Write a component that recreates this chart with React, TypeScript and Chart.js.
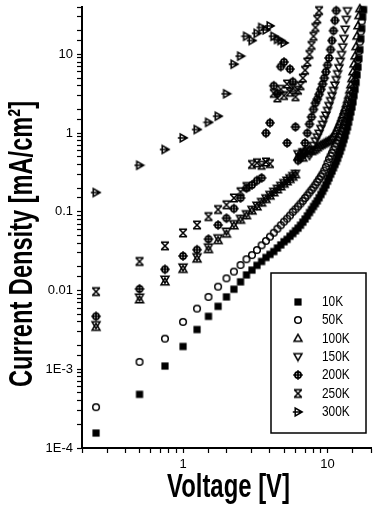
import React, { useEffect, useRef } from 'react';
import { Chart, registerables } from 'chart.js';

Chart.register(...registerables);

// ---- data -------------------------------------------------------------
const voltages = [
  0.25, 0.5, 0.75, 1, 1.25, 1.5, 1.75, 2, 2.25, 2.5, 2.75, 3, 3.25, 3.5, 3.75, 4,
  4.25, 4.5, 4.75, 5, 5.25, 5.5, 5.75, 6, 6.25, 6.5, 6.75, 7, 7.25, 7.5, 7.75, 8,
  8.25, 8.5, 8.75, 9, 9.25, 9.5, 9.75, 10, 10.25, 10.5, 10.75, 11, 11.25, 11.5, 11.75, 12,
  12.25, 12.5, 12.75, 13, 13.25, 13.5, 13.75, 14, 14.25, 14.5, 14.75, 15, 15.25, 15.5, 15.75, 16,
  16.25, 16.5, 16.75, 17, 17.25, 17.5, 17.75, 18,
];

const j10K = [
  1.55e-4, 4.8e-4, 1.1e-3, 1.95e-3, 3.2e-3, 4.7e-3, 6.3e-3, 8.3e-3, 0.0104, 0.0129, 0.0158,
  0.0182, 0.0209, 0.0234, 0.0263, 0.0288, 0.0313, 0.0347, 0.038, 0.0417,
  0.0447, 0.049, 0.053, 0.0575, 0.062, 0.0676, 0.074, 0.081, 0.089, 0.098, 0.107, 0.117,
  0.127, 0.138, 0.151, 0.166, 0.182, 0.2, 0.22, 0.245, 0.27, 0.3, 0.33, 0.363, 0.4, 0.437, 0.48, 0.537,
  0.59, 0.66, 0.74, 0.83, 0.93, 1.07, 1.2, 1.38, 1.6, 1.86, 2.15, 2.5, 3.0, 3.6, 4.4, 5.5, 6.9, 8.9,
  11.5, 15.8, 21.4, 30, 37,
];

const j50K = [
  3.3e-4, 1.24e-3, 2.45e-3, 4.0e-3, 5.9e-3, 8.3e-3, 0.0112, 0.0143, 0.0174, 0.0211, 0.025,
  0.0282, 0.0327, 0.0376, 0.0427, 0.0484, 0.0543, 0.061, 0.0676, 0.075,
  0.082, 0.09, 0.1, 0.108, 0.117, 0.127, 0.138, 0.15, 0.162, 0.176, 0.19, 0.204,
  0.221, 0.24, 0.26, 0.282, 0.305, 0.335, 0.372, 0.417, 0.468, 0.513, 0.562, 0.617, 0.676, 0.741, 0.813, 0.891,
  0.955, 1.05, 1.15, 1.26, 1.38, 1.51, 1.66, 1.86, 2.09, 2.4, 2.75, 3.24, 3.8, 4.57, 5.5, 6.76, 8.5,
  11, 14.5, 19.5, 26.3, 36.3,
];

const j100K = [
  3.4e-3, 7.6e-3, 0.0128, 0.0185, 0.025, 0.033, 0.043, 0.052,
  0.066, 0.078, 0.089, 0.102, 0.115, 0.129, 0.143, 0.158, 0.174, 0.19, 0.207, 0.224, 0.24, 0.257, 0.275, 0.295,
  0.5, 0.56, 0.48, 0.6, 0.55, 0.62, 0.58, 0.6, 0.62, 0.65, 0.68, 0.7, 0.72, 0.74, 0.76, 0.78,
  0.8, 0.83, 0.86, 0.9, 0.98, 1.07, 1.17, 1.28, 1.4, 1.55, 1.7, 1.9, 2.1, 2.35, 2.65, 3.0,
  3.5, 4.1, 4.9, 6.0, 7.5, 9.5, 12.5, 17, 23, 31, 38,
];

const j150K = [
  3.7e-3, 8.3e-3, 0.014, 0.02, 0.027, 0.036, 0.047, 0.057,
  0.071, 0.083, 0.095, 0.108, 0.122, 0.136, 0.151, 0.167, 0.183, 0.2, 0.218, 0.236, 0.254, 0.272, 0.29, 0.31,
  0.55, 0.5, 0.58, 0.55, 0.6, 0.52, 0.62, 0.7, 0.8, 0.9, 1.0, 1.15, 1.3, 1.5, 1.7, 1.95,
  2.25, 2.6, 3.0, 3.5, 4.1, 4.8, 5.7, 6.8, 8.2, 10, 12.5, 16, 21, 28, 36,
];

const j200K = [
  4.7e-3, 0.0105, 0.0186, 0.0275, 0.033, 0.045, 0.068, 0.083,
  0.11, 0.15, 0.2, 0.22, 0.25, 0.27, 1.0, 1.35,
  4.0, 3.2, 7.0, 8.0, 0.75, 6.5, 4.5, 1.2,
  0.45, 0.48, 0.55, 0.75, 1.0, 1.3, 1.6, 2.0, 2.4, 2.7, 3.1, 3.6, 4.2, 5.0, 6.0, 7.3, 9.0, 11.5, 15, 20, 27, 36,
];

const j250K = [
  0.0097, 0.0234, 0.037, 0.054, 0.068, 0.087, 0.107, 0.123,
  0.15, 0.18, 0.21, 0.4, 0.42, 0.39, 0.43, 0.41,
  3.2, 2.8, 3.6, 3.0, 4.2, 3.3, 3.8, 2.9,
  3.5, 4.0, 5.0, 6.3, 8.0, 10, 13, 17, 22, 28, 36,
];

const j300K = [
  0.176, 0.39, 0.62, 0.87, 1.11, 1.37, 1.64, 3.16, 7.5, 9.5,
  17, 15, 18.5, 22, 20.5, 23, 17, 15.5, 15, 14,
];

const seriesLabels = ['10K', '50K', '100K', '150K', '200K', '250K', '300K'];
const seriesValues = [j10K, j50K, j100K, j150K, j200K, j250K, j300K];
const markerKinds = ['square', 'circle', 'up', 'down', 'oplus', 'xbar', 'right'];

const yTickValues = [1e-4, 1e-3, 0.01, 0.1, 1, 10];
const yTickLabels = ['1E-4', '1E-3', '0.01', '0.1', '1', '10'];
const xTickValues = [1, 10];
const xTickLabels = ['1', '10'];
const xTitle = 'Voltage [V]';
const yTitle = 'Current Density [mA/cm\u00B2]';

// ---- helpers ----------------------------------------------------------
function makeMarker(kind: string): HTMLCanvasElement {
  const c = document.createElement('canvas');
  c.width = 12;
  c.height = 12;
  const g = c.getContext('2d') as CanvasRenderingContext2D;
  g.translate(6, 6);
  g.strokeStyle = '#000';
  g.fillStyle = '#000';
  g.lineWidth = 1.5;
  g.lineJoin = 'miter';
  g.beginPath();
  switch (kind) {
    case 'square':
      g.fillRect(-3.6, -3.6, 7.2, 7.2);
      break;
    case 'circle':
      g.arc(0, 0, 3.3, 0, Math.PI * 2);
      g.stroke();
      break;
    case 'up':
      g.moveTo(0, -4.2);
      g.lineTo(4, 2.8);
      g.lineTo(-4, 2.8);
      g.closePath();
      g.stroke();
      break;
    case 'down':
      g.moveTo(0, 4.2);
      g.lineTo(4, -2.8);
      g.lineTo(-4, -2.8);
      g.closePath();
      g.stroke();
      break;
    case 'oplus':
      g.lineWidth = 1.7;
      g.arc(0, 0, 3.1, 0, Math.PI * 2);
      g.moveTo(-4.8, 0);
      g.lineTo(4.8, 0);
      g.moveTo(0, -4.8);
      g.lineTo(0, 4.8);
      g.stroke();
      break;
    case 'xbar':
      g.lineWidth = 1.6;
      g.moveTo(-3.7, -3.7);
      g.lineTo(3.7, 3.7);
      g.moveTo(3.7, -3.7);
      g.lineTo(-3.7, 3.7);
      g.moveTo(-4, -3.7);
      g.lineTo(4, -3.7);
      g.moveTo(-4, 3.7);
      g.lineTo(4, 3.7);
      g.stroke();
      break;
    case 'right':
      g.moveTo(4.1, 0);
      g.lineTo(-2.8, -3.9);
      g.lineTo(-2.8, 3.9);
      g.closePath();
      g.moveTo(-5.2, 0);
      g.lineTo(4.1, 0);
      g.stroke();
      break;
  }
  return c;
}

function labelFor(value: number, values: number[], labels: string[]): string {
  const idx = values.findIndex((t) => Math.abs(t - value) / t < 1e-6);
  return idx >= 0 ? labels[idx] : '';
}

export default function App() {
  const ref = useRef<HTMLCanvasElement | null>(null);

  useEffect(() => {
    document.body.style.margin = '0';
    const canvas = ref.current;
    if (!canvas) return;
    const markers = markerKinds.map(makeMarker);

    const datasets = seriesValues.map((vals, s) => ({
      label: seriesLabels[s],
      data: vals.map((j, i) => ({ x: voltages[i], y: j })),
      pointStyle: markers[s],
      pointRadius: 4,
      showLine: false,
      clip: false as any,
    }));

    const overlay = {
      id: 'overlay',
      afterDraw(chart: any) {
        const ctx = chart.ctx as CanvasRenderingContext2D;
        ctx.save();
        ctx.fillStyle = '#000';
        ctx.font = 'bold 33px "Liberation Sans", Arial, sans-serif';
        ctx.textAlign = 'center';
        ctx.textBaseline = 'alphabetic';
        // x title
        const wx = ctx.measureText(xTitle).width;
        ctx.save();
        ctx.translate(228.5, 497);
        ctx.scale(123 / wx, 1);
        ctx.fillText(xTitle, 0, 0);
        ctx.restore();
        // y title
        const wy = ctx.measureText(yTitle).width;
        ctx.save();
        ctx.translate(32, 244);
        ctx.rotate(-Math.PI / 2);
        ctx.scale(286 / wy, 1);
        ctx.fillText(yTitle, 0, 0);
        ctx.restore();

        // legend
        ctx.fillStyle = '#fff';
        ctx.fillRect(271, 273, 95, 160);
        ctx.strokeStyle = '#000';
        ctx.lineWidth = 1.5;
        ctx.strokeRect(271, 273, 95, 160);
        const rows = [302, 320, 338.5, 356.5, 375, 393.5, 412];
        ctx.fillStyle = '#000';
        ctx.font = '14px "Liberation Sans", Arial, sans-serif';
        ctx.textAlign = 'left';
        ctx.textBaseline = 'middle';
        seriesLabels.forEach((lab, i) => {
          const m = markers[i];
          ctx.drawImage(m, 298 - m.width / 2, rows[i] - m.height / 2);
          ctx.save();
          ctx.translate(322, rows[i] + 0.5);
          ctx.scale(0.85, 1);
          ctx.fillText(lab, 0, 0);
          ctx.restore();
        });
        ctx.restore();
      },
    };

    const tickFont = { family: '"Liberation Sans", Arial, sans-serif', size: 13 };

    const chart = new Chart(canvas, {
      type: 'scatter',
      data: { datasets: datasets as any },
      options: {
        animation: false,
        responsive: false,
        maintainAspectRatio: false,
        devicePixelRatio: 1,
        layout: { padding: { top: 7, right: 0, bottom: 0, left: 0 } },
        plugins: {
          legend: { display: false },
          tooltip: { enabled: false },
        },
        scales: {
          x: {
            type: 'logarithmic',
            position: 'bottom',
            min: 0.2,
            max: 20,
            afterFit: (s: any) => {
              s.height = 63;
              s.paddingLeft = 0;
              s.paddingRight = 0;
            },
            border: { display: true, color: '#000', width: 2 },
            grid: {
              drawOnChartArea: false,
              drawTicks: true,
              tickLength: 5,
              tickWidth: 1.2,
              tickColor: '#000',
              color: '#000',
            },
            ticks: {
              autoSkip: false,
              maxRotation: 0,
              color: '#000',
              font: tickFont,
              padding: 4,
              callback: (v: any) => labelFor(Number(v), xTickValues, xTickLabels),
            },
          },
          y: {
            type: 'logarithmic',
            position: 'left',
            min: 1e-4,
            max: 40,
            afterFit: (s: any) => {
              s.width = 82;
              s.paddingTop = 0;
              s.paddingBottom = 0;
            },
            border: { display: true, color: '#000', width: 2 },
            grid: {
              drawOnChartArea: false,
              drawTicks: true,
              tickLength: 5,
              tickWidth: 1.2,
              tickColor: '#000',
              color: '#000',
            },
            ticks: {
              autoSkip: false,
              color: '#000',
              font: tickFont,
              padding: 4,
              callback: (v: any) => labelFor(Number(v), yTickValues, yTickLabels),
            },
          },
        },
      } as any,
      plugins: [overlay],
    });

    return () => {
      chart.destroy();
    };
  }, []);

  return (
    <canvas
      ref={ref}
      width={376}
      height={511}
      style={{ display: 'block', width: 376, height: 511 }}
    />
  );
}
